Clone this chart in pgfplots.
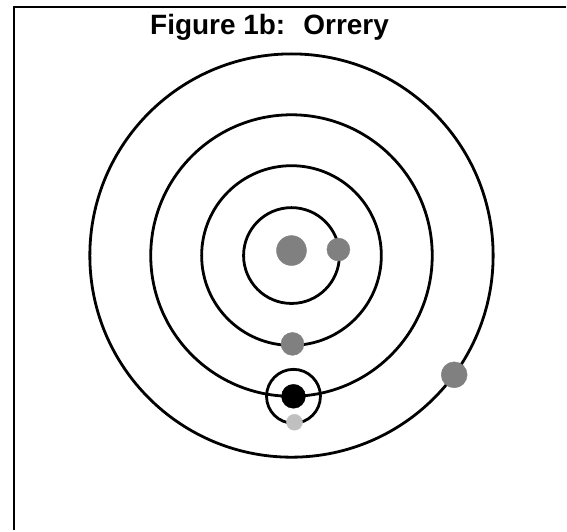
\documentclass[border=0pt]{standalone}
\usepackage{fontspec}
\setmainfont{Liberation Sans}
\usepackage{pgfplots}
\pgfplotsset{compat=1.18}
\definecolor{planetgrey}{RGB}{128,128,128}
\definecolor{moongrey}{RGB}{192,192,192}
\begin{document}
\begin{tikzpicture}
\begin{axis}[
  scale only axis, width=567pt, height=531pt,
  xmin=0, xmax=567, ymin=0, ymax=531,
  hide axis, clip=false,
]
% invisible bounding box
\path (axis cs:0,0) rectangle (axis cs:567,531);
% frame (cropped at right and bottom)
\draw[line width=2pt] (axis cs:14,0) -- (axis cs:14,523.5) -- (axis cs:567,523.5);
% title
\node[anchor=base, inner sep=0pt] at (axis cs:270,496) {\fontsize{28}{32}\selectfont\bfseries Figure 1b:~ Orrery};
% orbits around the Sun
\draw[line width=2.8pt] (axis cs:292,275) circle [radius=48];
\draw[line width=2.8pt] (axis cs:292,275) circle [radius=90];
\draw[line width=2.8pt] (axis cs:292,275) circle [radius=141];
\draw[line width=2.8pt] (axis cs:292,275) circle [radius=202];
% orbit of the Moon around the Earth
\draw[line width=2.8pt] (axis cs:294,134) circle [radius=27];
% Sun
\addplot[only marks, mark=*, mark size=15, color=planetgrey] coordinates {(292,280)};
% Mercury
\addplot[only marks, mark=*, mark size=11.5, color=planetgrey] coordinates {(339,281)};
% Venus
\addplot[only marks, mark=*, mark size=11.5, color=planetgrey] coordinates {(293,186.5)};
% Earth
\addplot[only marks, mark=*, mark size=12, color=black] coordinates {(294,134)};
% Moon
\addplot[only marks, mark=*, mark size=8, color=moongrey] coordinates {(295,108)};
% Mars
\addplot[only marks, mark=*, mark size=13, color=planetgrey] coordinates {(455,155.5)};
\end{axis}
\end{tikzpicture}
\end{document}
